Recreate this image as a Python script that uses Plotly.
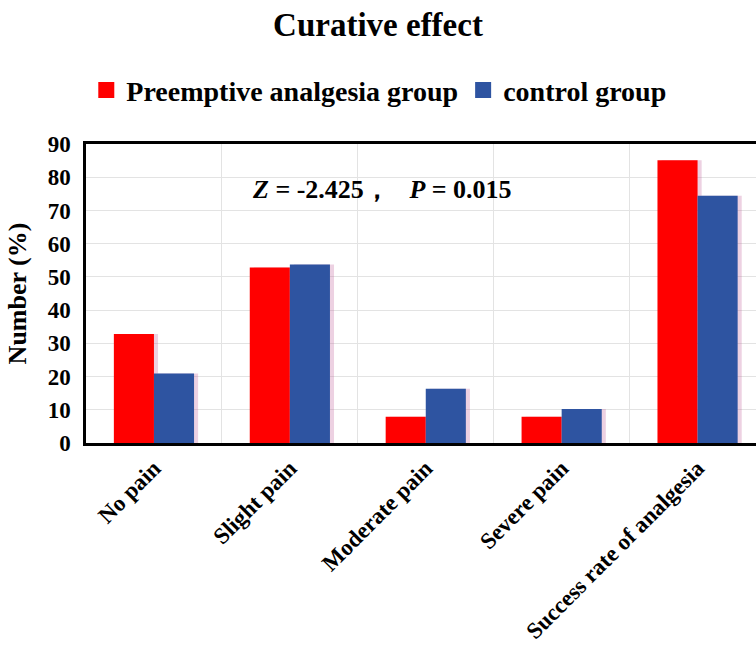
import plotly.graph_objects as go

categories = ["No pain", "Slight pain", "Moderate pain", "Severe pain", "Success rate of analgesia"]
preemptive = [32.8, 52.8, 7.9, 7.9, 85.1]
control = [20.9, 53.7, 16.3, 10.2, 74.4]
series_names = ["Preemptive analgesia group", "control group"]
y_ticks = [0, 10, 20, 30, 40, 50, 60, 70, 80, 90]

FONT = "Liberation Serif, Times New Roman, serif"
RED = "#ff0000"
BLUE = "#2e54a1"
SHADOW = "rgba(190,90,150,0.28)"
W = 0.295

fig = go.Figure()
# soft shadows behind bars
for vals, off in [(preemptive, -W), (control, 0.0)]:
    fig.add_trace(go.Bar(x=categories, y=vals, width=W, offset=off + 0.03,
                         marker=dict(color=SHADOW, line=dict(width=0)),
                         showlegend=False, hoverinfo="skip"))
fig.add_trace(go.Bar(x=categories, y=preemptive, name=series_names[0], width=W, offset=-W,
                     marker=dict(color=RED, line=dict(width=0)), showlegend=False))
fig.add_trace(go.Bar(x=categories, y=control, name=series_names[1], width=W, offset=0.0,
                     marker=dict(color=BLUE, line=dict(width=0)), showlegend=False))
# legend entries with large square swatches
for name, col in zip(series_names, [RED, BLUE]):
    fig.add_trace(go.Scatter(x=[None], y=[None], mode="markers", name=f"<b>{name}</b>",
                             marker=dict(symbol="square", size=22, color=col)))

fig.add_annotation(x=1.68, y=76.2, xref="x", yref="y",
                   text="<b><i>Z</i> = -2.425，   <i>P</i> = 0.015</b>",
                   showarrow=False, font=dict(family=FONT, size=26, color="black"))

fig.update_layout(
    width=756, height=649,
    margin=dict(l=86, r=0, t=144, b=206, autoexpand=False),
    paper_bgcolor="white", plot_bgcolor="white",
    barmode="overlay",
    title=dict(text="<b>Curative effect</b>", x=0.5, xref="container", xanchor="center",
               y=0.962, yanchor="middle",
               font=dict(family=FONT, size=33, color="black")),
    legend=dict(orientation="h", x=0.437, xanchor="center", y=1.18, yanchor="middle",
                font=dict(family=FONT, size=28, color="black"), itemwidth=30,
                traceorder="normal", tracegroupgap=0, entrywidthmode="pixels"),
    font=dict(family=FONT, color="black"),
    showlegend=True,
)
fig.update_xaxes(
    type="category", range=[-0.5, 4.43], tickson="boundaries",
    showgrid=True, gridcolor="#e3e3e3", gridwidth=1,
    showline=True, linecolor="black", linewidth=2.5, mirror=True,
    ticks="outside", ticklen=12, tickcolor="rgba(0,0,0,0)", tickangle=-45,
    tickfont=dict(family=FONT, size=23, color="black"),
)
fig.update_yaxes(
    range=[0, 90], tickvals=y_ticks, ticktext=[f"<b>{v}</b>" for v in y_ticks],
    showgrid=True, gridcolor="#e3e3e3", gridwidth=1,
    showline=True, linecolor="black", linewidth=2.5, mirror=False,
    ticks="outside", ticklen=8, tickcolor="rgba(0,0,0,0)", zeroline=False,
    tickfont=dict(family=FONT, size=23, color="black"),
    title=dict(text="<b>Number (%)</b>", font=dict(family=FONT, size=26, color="black"), standoff=14),
)
fig.update_xaxes(ticktext=[f"<b>{c}</b>" for c in categories], tickvals=categories)

fig.write_html("out.html")
